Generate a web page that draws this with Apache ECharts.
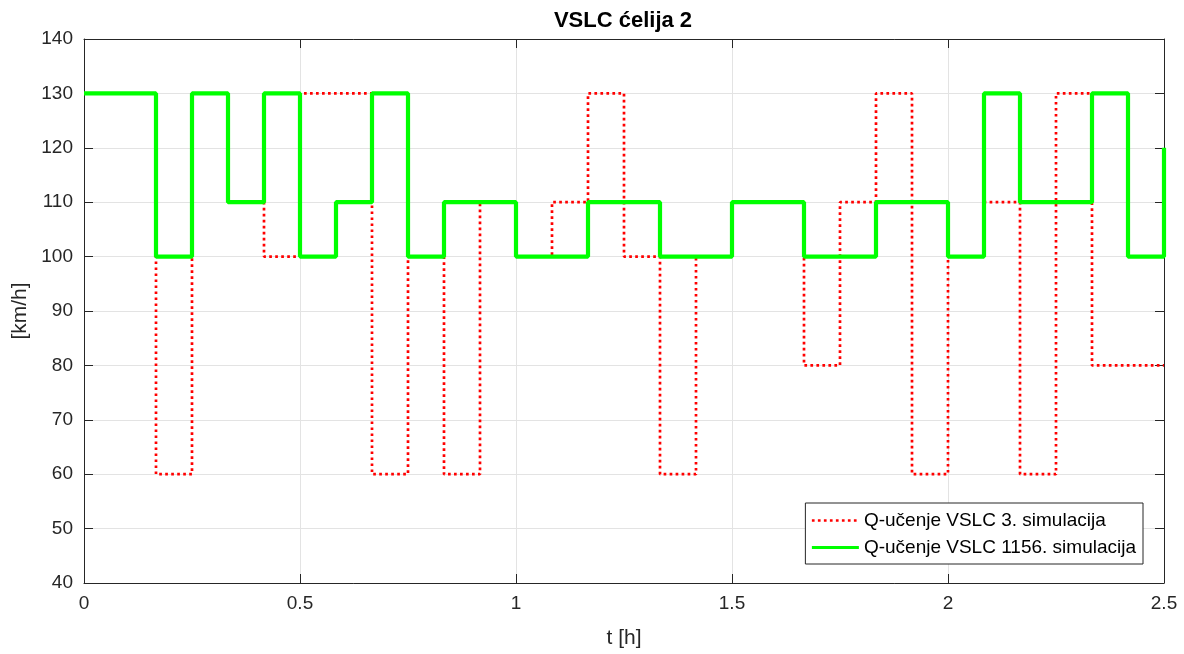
<!DOCTYPE html>
<html>
<head>
<meta charset="utf-8">
<script src="https://cdn.jsdelivr.net/npm/echarts@6/dist/echarts.min.js"></script>
<style>
html,body{margin:0;padding:0;background:#fff;}
#chart{width:1184px;height:654px;}
</style>
</head>
<body>
<div id="chart"></div>
<script>
// time in minutes (converted to hours for the axis)
const minutes = [0,5,10,15,20,25,30,35,40,45,50,55,60,65,70,75,80,85,90,95,100,105,110,115,120,125,130,135,140,145,150];
// Q-učenje VSLC 3. simulacija (zero-order hold values)
const sim3 = [130,130,60,130,110,100,130,130,60,100,60,110,100,110,130,100,60,100,110,110,80,110,130,60,100,110,60,130,80,80,80];
// Q-učenje VSLC 1156. simulacija
const sim1156 = [130,130,100,130,110,130,100,110,130,100,110,110,100,100,110,110,100,100,110,110,100,100,110,110,100,130,110,110,130,100,120];
const seriesNames = ['Q-učenje VSLC 3. simulacija','Q-učenje VSLC 1156. simulacija'];

const hours = minutes.map(m => m/60);
const d3 = hours.map((t,i)=>[t, sim3[i]]);
const d1156 = hours.map((t,i)=>[t, sim1156[i]]);

const font = '"Liberation Sans", Arial, Helvetica, sans-serif';
const axisCol = '#262626';
const redStyle = {color:'#ff0000', width:2.7, type:[2.7,3.3]};
const greenStyle = {color:'#00ff00', width:4.2, type:'solid'};
const chart = echarts.init(document.getElementById('chart'));
const axisLine = {show:true, onZero:false, lineStyle:{color:axisCol, width:1}};
const tick = {show:true, inside:true, length:9, lineStyle:{color:axisCol}};
chart.setOption({
  animation:false,
  backgroundColor:'#fff',
  title:{text:'VSLC ćelija 2', left:623, top:10, textAlign:'center', padding:0,
    textStyle:{fontFamily:font, fontSize:22, fontWeight:'bold', color:'#000'}},
  grid:{left:84, top:39, width:1080, height:545, containLabel:false},
  legend:{
    data:[
      {name:seriesNames[0], lineStyle:{width:2.7, type:[2.7,3.3]}},
      {name:seriesNames[1], lineStyle:{width:3}}
    ],
    orient:'vertical', right:41, top:503,
    backgroundColor:'#fff', borderColor:axisCol, borderWidth:1,
    padding:[8,7,7,5], itemGap:8, itemWidth:47, itemHeight:14,
    itemStyle:{color:'transparent', borderWidth:0, opacity:0},
    textStyle:{fontFamily:font, fontSize:19, color:'#000'}
  },
  xAxis:[{
    type:'value', min:0, max:2.5, interval:0.5,
    name:'t [h]', nameLocation:'middle', nameGap:45,
    nameTextStyle:{fontFamily:font, fontSize:21, color:axisCol},
    axisLine:axisLine, axisTick:tick,
    axisLabel:{fontFamily:font, fontSize:19, color:axisCol, margin:11,
      formatter:v=>String(v)},
    splitLine:{show:true, lineStyle:{color:'#e3e3e3', width:1}}
  },{
    type:'value', min:0, max:2.5, interval:0.5, position:'top',
    axisLine:axisLine, axisTick:tick,
    axisLabel:{show:false}, splitLine:{show:false}
  }],
  yAxis:[{
    type:'value', min:40, max:140, interval:10,
    name:'[km/h]', nameLocation:'middle', nameGap:53, nameRotate:90,
    nameTextStyle:{fontFamily:font, fontSize:21, color:axisCol},
    axisLine:axisLine, axisTick:tick,
    axisLabel:{fontFamily:font, fontSize:19, color:axisCol, margin:11},
    splitLine:{show:true, lineStyle:{color:'#e3e3e3', width:1}}
  },{
    type:'value', min:40, max:140, interval:10, position:'right',
    axisLine:axisLine, axisTick:tick,
    axisLabel:{show:false}, splitLine:{show:false}
  }],
  series:[{
    name:seriesNames[0], type:'line', step:'end', data:d3,
    symbol:'none', z:2, lineStyle:redStyle, itemStyle:{color:'#ff0000'}
  },{
    name:seriesNames[1], type:'line', step:'end', data:d1156,
    symbol:'none', z:3, lineStyle:greenStyle, itemStyle:{color:'#00ff00'}
  }]
});
</script>
</body>
</html>
